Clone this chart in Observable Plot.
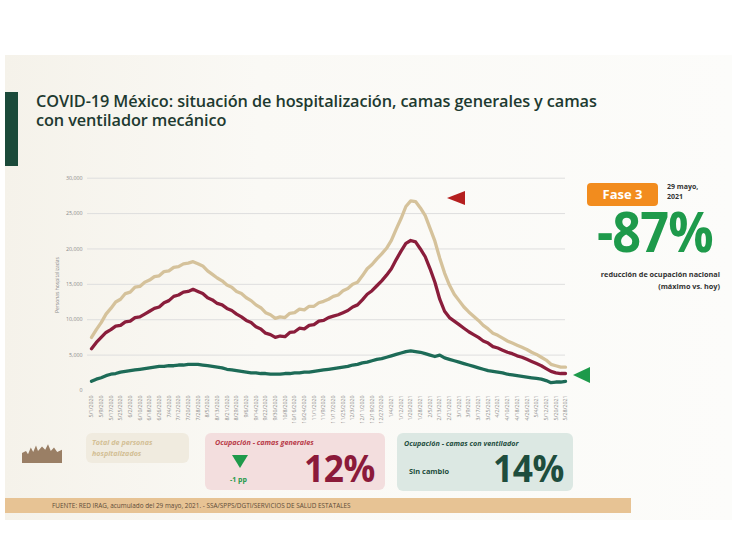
<!DOCTYPE html>
<html><head><meta charset="utf-8">
<script src="https://cdn.jsdelivr.net/npm/d3@7"></script>
<script src="https://cdn.jsdelivr.net/npm/@observablehq/plot@0.6"></script>
<style>
body{margin:0;width:732px;height:549px;position:relative;background:#fff;font-family:"Open Sans",sans-serif;overflow:hidden}
.abs{position:absolute}
#slide{left:5px;top:55px;width:727px;height:465px;background:linear-gradient(90deg,#f5f2ea 0%,#faf9f5 35%,#fcfcfa 100%)}
#bar{left:5px;top:92px;width:13px;height:74px;background:#1b4a3a}
#title{left:36px;top:92px;font-size:16.3px;font-weight:600;color:#1e3a30;line-height:19px;white-space:nowrap;letter-spacing:-0.1px}
#ylab{left:22px;top:282px;width:70px;text-align:center;font-size:5px;color:#8a8a8a;transform:rotate(-90deg);transform-origin:center}
.box{border-radius:6px}
#b1{left:86px;top:433px;width:103px;height:30px;background:#f0ebdf}
#b1 span{position:absolute;left:6px;top:4px;font-size:7.2px;font-style:italic;font-weight:700;color:#d3bf95;line-height:10.5px}
#b2{left:205px;top:433px;width:180px;height:57px;background:#f3dede}
#b3{left:397px;top:433px;width:176px;height:58px;background:#dce8e3}
.bt{position:absolute;font-size:7.2px;font-style:italic;font-weight:700;white-space:nowrap}
.big{position:absolute;font-weight:700;white-space:nowrap;line-height:0.8;transform:scaleX(0.93);transform-origin:left top}
#foot{left:5px;top:498px;width:626px;height:15px;background:#e7c394}
#foot span{position:absolute;left:47px;top:3px;font-size:6.4px;color:#5d4b38;white-space:nowrap}
#fase{left:587px;top:183px;width:71px;height:23px;background:#f28c1e;border-radius:4px;color:#fff;font-weight:700;font-size:13px;text-align:center;line-height:23px}
#fecha{left:667px;top:182px;font-size:7px;font-weight:700;color:#333;line-height:10px}
#pct{left:597px;top:208px;font-size:56px;font-weight:700;color:#1e9a4b;transform:scaleX(0.9);transform-origin:left top;line-height:0.82;letter-spacing:-1px}
#red{left:585px;top:268px;width:135px;text-align:right;font-size:7.3px;font-weight:700;color:#333;line-height:12px}
.tri{position:absolute;width:0;height:0}
</style></head><body>
<div id="slide" class="abs"></div>
<div id="bar" class="abs"></div>
<div id="title" class="abs">COVID-19 México: situación de hospitalización, camas generales y camas<br>con ventilador mecánico</div>
<div id="ylab" class="abs">Personas hospitalizadas</div>
<div id="chart" class="abs" style="left:0;top:165px"></div>

<div class="tri" style="left:447px;top:191px;border-top:7px solid transparent;border-bottom:7px solid transparent;border-right:18px solid #b51f1f"></div>
<div class="tri" style="left:573px;top:367px;border-top:8px solid transparent;border-bottom:8px solid transparent;border-right:17px solid #1e9a4b"></div>

<div id="fase" class="abs">Fase 3</div>
<div id="fecha" class="abs">29 mayo,<br>2021</div>
<div id="pct" class="abs">-87%</div>
<div id="red" class="abs">reducción de ocupación nacional<br>(máximo vs. hoy)</div>

<div class="abs" style="left:22px;top:441px;width:40px;height:22px;background:#8a6a4e;opacity:0.85;clip-path:polygon(0 100%,0 55%,10% 45%,15% 60%,22% 30%,28% 50%,35% 20%,40% 45%,50% 25%,58% 40%,65% 15%,72% 45%,80% 30%,88% 50%,100% 40%,100% 100%)"></div>

<div id="b1" class="abs box"><span>Total de personas<br>hospitalizados</span></div>
<div id="b2" class="abs box">
  <div class="bt" style="left:10px;top:4px;color:#b83a48">Ocupación - camas generales</div>
  <div class="tri" style="left:27px;top:22px;border-left:8px solid transparent;border-right:8px solid transparent;border-top:13px solid #1e9a4b"></div>
  <div class="bt" style="left:25px;top:42px;color:#1e9a4b;font-style:normal;font-size:7px">-1 pp</div>
  <div class="big" style="left:99px;top:19px;font-size:38px;color:#8b1a3a;letter-spacing:-0.5px">12%</div>
</div>
<div id="b3" class="abs box">
  <div class="bt" style="left:7px;top:5px;color:#1e4d3d">Ocupación - camas con ventilador</div>
  <div class="bt" style="left:12px;top:33px;color:#1e4d3d;font-style:normal;font-size:7.4px">Sin cambio</div>
  <div class="big" style="left:96px;top:19px;font-size:38px;color:#1e4d3d;letter-spacing:-0.5px">14%</div>
</div>
<div id="foot" class="abs"><span>FUENTE: RED IRAG, acumulado del 29 mayo, 2021. - SSA/SPPS/DGTI/SERVICIOS DE SALUD ESTATALES</span></div>

<script>
// Series sampled every 4 days starting 5/1/2020
const startDate = "2020-05-01";
const stepDays = 4;
const seriesNames = ["Total de personas hospitalizados", "Camas generales", "Camas con ventilador"];
const seriesColors = ["#d5c29b", "#8a1d3b", "#1d6b57"];
const totalHospitalizados = [
  7500, 8600, 9600, 10800, 11600, 12500, 12900, 13700, 13900, 14600,
  14700, 15300, 15600, 16100, 16200, 16800, 16900, 17400, 17500, 17900,
  18000, 18200, 17900, 17600, 16900, 16400, 15900, 15500, 14900, 14600,
  14000, 13700, 13100, 12700, 12100, 11700, 11000, 10700, 10200, 10400,
  10300, 10900, 11000, 11500, 11400, 11900, 11900, 12400, 12600, 12900,
  13300, 13500, 14100, 14400, 15000, 15300, 16200, 17200, 17800, 18600,
  19300, 20100, 21200, 22800, 24300, 26000, 26800, 26700, 25800, 24700,
  22900, 21100, 18700, 16600, 14900, 13600, 12700, 11800, 11100, 10500,
  9900, 9200, 8700, 8100, 7800, 7400, 7000, 6700, 6400, 6100,
  5800, 5400, 5100, 4700, 4300, 3700, 3500, 3300, 3300
];
const camasGenerales = [
  5900, 6800, 7500, 8200, 8600, 9100, 9200, 9700, 9800, 10300,
  10400, 10800, 11200, 11600, 11800, 12400, 12700, 13300, 13500, 13900,
  14000, 14300, 14000, 13700, 13100, 12800, 12300, 12100, 11600, 11300,
  10800, 10400, 9900, 9600, 9000, 8700, 8100, 7900, 7500, 7700,
  7600, 8200, 8300, 8800, 8700, 9200, 9300, 9800, 9900, 10300,
  10500, 10700, 11000, 11300, 11800, 12100, 12800, 13600, 14100, 14800,
  15500, 16300, 17200, 18500, 19700, 20800, 21200, 21000, 20000, 18900,
  17200, 15300, 12900, 11200, 10300, 9800, 9300, 8800, 8300, 7900,
  7500, 7000, 6700, 6200, 6000, 5700, 5400, 5200, 4900, 4700,
  4400, 4100, 3800, 3500, 3100, 2700, 2500, 2400, 2400
];
const camasVentilador = [
  1300, 1600, 1800, 2100, 2300, 2400, 2600, 2700, 2800, 2900,
  3000, 3100, 3200, 3300, 3400, 3400, 3500, 3500, 3600, 3600,
  3700, 3700, 3700, 3600, 3500, 3400, 3300, 3200, 3000, 2900,
  2800, 2700, 2600, 2500, 2500, 2400, 2400, 2300, 2300, 2300,
  2400, 2400, 2500, 2500, 2600, 2600, 2700, 2800, 2900, 3000,
  3100, 3200, 3300, 3400, 3600, 3700, 3900, 4000, 4200, 4400,
  4500, 4700, 4900, 5100, 5300, 5500, 5600, 5500, 5400, 5200,
  5000, 4800, 5000, 4600, 4400, 4200, 4000, 3800, 3600, 3400,
  3200, 3000, 2800, 2700, 2600, 2500, 2300, 2200, 2100, 2000,
  1900, 1800, 1700, 1600, 1400, 1100, 1200, 1200, 1300
];
const xTickLabels = ["5/1/2020","5/9/2020","5/17/2020","5/25/2020","6/2/2020","6/10/2020","6/18/2020","6/26/2020","7/4/2020","7/12/2020","7/20/2020","7/28/2020","8/5/2020","8/13/2020","8/21/2020","8/29/2020","9/6/2020","9/14/2020","9/22/2020","9/30/2020","10/8/2020","10/16/2020","10/24/2020","11/1/2020","11/9/2020","11/17/2020","11/25/2020","12/3/2020","12/11/2020","12/19/2020","12/27/2020","1/4/2021","1/12/2021","1/20/2021","1/28/2021","2/5/2021","2/13/2021","2/21/2021","3/1/2021","3/9/2021","3/17/2021","3/25/2021","4/2/2021","4/10/2021","4/18/2021","4/26/2021","5/4/2021","5/12/2021","5/20/2021","5/28/2021"];
const yTicks = [0, 5000, 10000, 15000, 20000, 25000, 30000];

const parseMDY = d3.utcParse("%m/%d/%Y");
const fmtMDY = d3.utcFormat("%-m/%-d/%Y");
const start = d3.utcParse("%Y-%m-%d")(startDate);
const xTicks = xTickLabels.map(parseMDY);

const data = [];
[totalHospitalizados, camasGenerales, camasVentilador].forEach((arr, k) => {
  arr.forEach((v, i) => data.push({date: d3.utcDay.offset(start, i * stepDays), value: v, serie: seriesNames[k]}));
});

const chart = Plot.plot({
  width: 600, height: 265,
  marginLeft: 91, marginRight: 35, marginTop: 12.7, marginBottom: 40,
  style: {background: "transparent", fontFamily: "Open Sans", fontSize: "5.3px", color: "#8a8a8a", overflow: "visible"},
  x: {type: "utc", domain: [xTicks[0], xTicks[xTicks.length - 1]], label: null},
  y: {domain: [0, 30000], label: null},
  color: {domain: seriesNames, range: seriesColors},
  marks: [
    Plot.ruleY(yTicks.filter(d => d > 0), {stroke: "#dedede", strokeWidth: 1, insetLeft: -4}),
    Plot.axisY({ticks: yTicks, tickFormat: d3.format(","), tickSize: 0, tickPadding: 9, label: null}),
    Plot.axisX({ticks: xTicks, tickFormat: fmtMDY, tickRotate: -90, tickSize: 0, tickPadding: 5, label: null}),
    Plot.line(data, {x: "date", y: "value", z: "serie", stroke: "serie", strokeWidth: 3.3, strokeLinejoin: "round"})
  ]
});
document.getElementById("chart").appendChild(chart);
</script>
</body></html>
